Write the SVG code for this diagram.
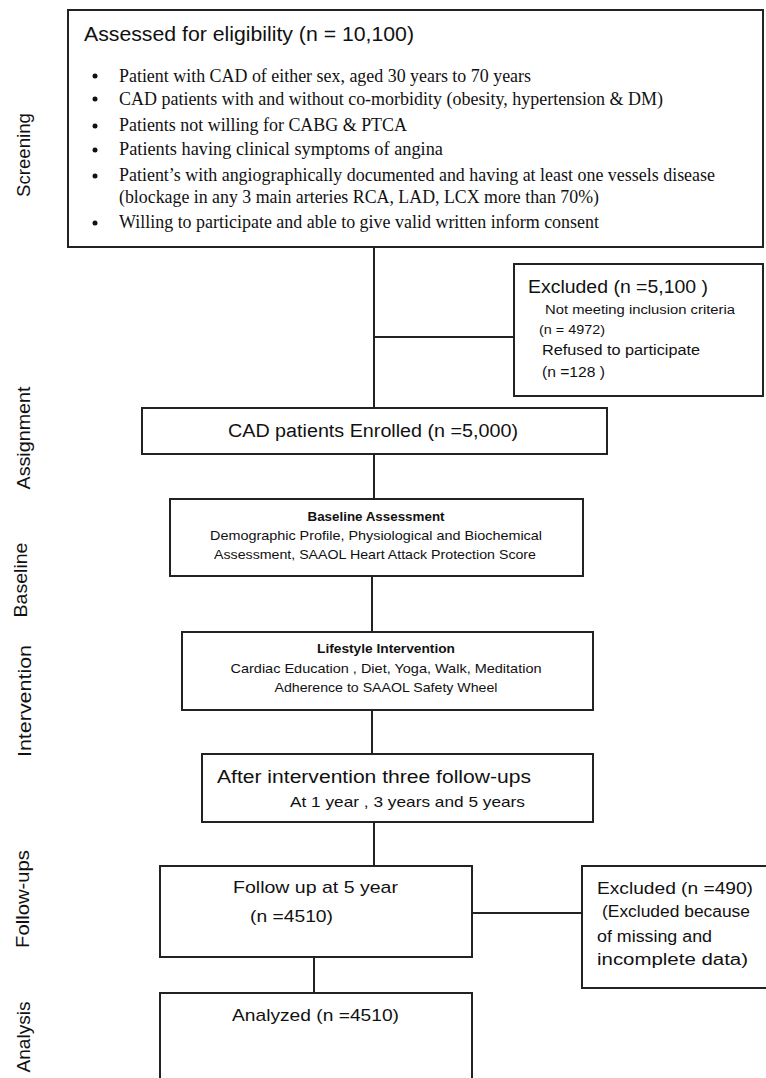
<svg xmlns="http://www.w3.org/2000/svg" width="766" height="1078" viewBox="0 0 766 1078">
<style>
.box{fill:#fff;stroke:#222;stroke-width:2}
.ln{stroke:#222;stroke-width:2;fill:none}
.s{font-family:"Liberation Sans",Arial,sans-serif;fill:#111}
.r{font-family:"Liberation Serif","Times New Roman",serif;fill:#111;font-size:18.5px}
.b{font-weight:bold}
.lab{font-family:"Liberation Sans",Arial,sans-serif;fill:#111;font-size:19px;text-anchor:middle}
</style>
<rect width="766" height="1078" fill="#fff"/>

<g id="side-labels">
<text class="lab" transform="translate(30,155) rotate(-90)" textLength="84" lengthAdjust="spacingAndGlyphs">Screening</text>
<text class="lab" transform="translate(30,438) rotate(-90)" textLength="103" lengthAdjust="spacingAndGlyphs">Assignment</text>
<text class="lab" transform="translate(27,580) rotate(-90)" textLength="75" lengthAdjust="spacingAndGlyphs">Baseline</text>
<text class="lab" transform="translate(31,701) rotate(-90)" textLength="112" lengthAdjust="spacingAndGlyphs">Intervention</text>
<text class="lab" transform="translate(29,899) rotate(-90)" textLength="98" lengthAdjust="spacingAndGlyphs">Follow-ups</text>
<text class="lab" transform="translate(30,1037) rotate(-90)" textLength="71" lengthAdjust="spacingAndGlyphs">Analysis</text>
</g>

<g id="connectors">
<line class="ln" x1="374" y1="247" x2="374" y2="408"/>
<line class="ln" x1="374" y1="337" x2="514" y2="337"/>
<line class="ln" x1="374" y1="454" x2="374" y2="499"/>
<line class="ln" x1="372" y1="576" x2="372" y2="632"/>
<line class="ln" x1="372" y1="710" x2="372" y2="754"/>
<line class="ln" x1="374" y1="822" x2="374" y2="866"/>
<line class="ln" x1="472" y1="913" x2="582" y2="913"/>
<line class="ln" x1="314" y1="957" x2="314" y2="993"/>
</g>

<g id="assessed">
<rect class="box" x="68" y="10" width="695" height="237"/>
<text class="s" x="84" y="41" font-size="21" textLength="330" lengthAdjust="spacingAndGlyphs">Assessed for eligibility (n = 10,100)</text>
<g fill="#111">
<circle cx="95" cy="76" r="2.5"/>
<circle cx="95" cy="99" r="2.5"/>
<circle cx="95" cy="126" r="2.5"/>
<circle cx="95" cy="150" r="2.5"/>
<circle cx="95" cy="176" r="2.5"/>
<circle cx="95" cy="223" r="2.5"/>
</g>
<text class="r" x="119" y="82" textLength="412" lengthAdjust="spacingAndGlyphs">Patient with CAD of either sex, aged 30 years to 70 years</text>
<text class="r" x="119" y="105" textLength="544" lengthAdjust="spacingAndGlyphs">CAD patients with and without co-morbidity (obesity, hypertension &amp; DM)</text>
<text class="r" x="119" y="131" textLength="288" lengthAdjust="spacingAndGlyphs">Patients not willing for CABG &amp; PTCA</text>
<text class="r" x="119" y="155" textLength="324" lengthAdjust="spacingAndGlyphs">Patients having clinical symptoms of angina</text>
<text class="r" x="119" y="181" textLength="596" lengthAdjust="spacingAndGlyphs">Patient’s with angiographically documented and having at least one vessels disease</text>
<text class="r" x="119" y="203" textLength="480" lengthAdjust="spacingAndGlyphs">(blockage in any 3 main arteries RCA, LAD, LCX more than 70%)</text>
<text class="r" x="119" y="228" textLength="480" lengthAdjust="spacingAndGlyphs">Willing to participate and able to give valid written inform consent</text>
</g>

<g id="excluded1">
<rect class="box" x="514" y="264" width="249" height="132"/>
<text class="s" x="528" y="293" font-size="18" textLength="180" lengthAdjust="spacingAndGlyphs">Excluded (n =5,100 )</text>
<text class="s" x="545" y="314" font-size="12.5" textLength="190" lengthAdjust="spacingAndGlyphs">Not meeting inclusion criteria</text>
<text class="s" x="539" y="334" font-size="12.5" textLength="66" lengthAdjust="spacingAndGlyphs">(n = 4972)</text>
<text class="s" x="542" y="355" font-size="14" textLength="158" lengthAdjust="spacingAndGlyphs">Refused to participate</text>
<text class="s" x="542" y="377" font-size="14" textLength="63" lengthAdjust="spacingAndGlyphs">(n =128 )</text>
</g>

<g id="enrolled">
<rect class="box" x="142" y="408" width="465" height="46"/>
<text class="s" x="228" y="437" font-size="18" textLength="290" lengthAdjust="spacingAndGlyphs">CAD patients Enrolled (n =5,000)</text>
</g>

<g id="baseline">
<rect class="box" x="170" y="499" width="413" height="77"/>
<text class="s b" x="376" y="521" font-size="13" text-anchor="middle" textLength="137" lengthAdjust="spacingAndGlyphs">Baseline Assessment</text>
<text class="s" x="376" y="540" font-size="13" text-anchor="middle" textLength="332" lengthAdjust="spacingAndGlyphs">Demographic Profile, Physiological and Biochemical</text>
<text class="s" x="375" y="559" font-size="13" text-anchor="middle" textLength="322" lengthAdjust="spacingAndGlyphs">Assessment, SAAOL Heart Attack Protection Score</text>
</g>

<g id="intervention">
<rect class="box" x="182" y="632" width="411" height="78"/>
<text class="s b" x="386" y="653" font-size="13" text-anchor="middle" textLength="138" lengthAdjust="spacingAndGlyphs">Lifestyle Intervention</text>
<text class="s" x="386" y="673" font-size="13" text-anchor="middle" textLength="311" lengthAdjust="spacingAndGlyphs">Cardiac Education , Diet, Yoga, Walk, Meditation</text>
<text class="s" x="386" y="692" font-size="13" text-anchor="middle" textLength="223" lengthAdjust="spacingAndGlyphs">Adherence to SAAOL Safety Wheel</text>
</g>

<g id="followups">
<rect class="box" x="202" y="754" width="391" height="68"/>
<text class="s" x="217" y="783" font-size="18" textLength="314" lengthAdjust="spacingAndGlyphs">After intervention three follow-ups</text>
<text class="s" x="290" y="807" font-size="15" textLength="235" lengthAdjust="spacingAndGlyphs">At 1 year , 3 years and 5 years</text>
</g>

<g id="followup5">
<rect class="box" x="160" y="866" width="312" height="91"/>
<text class="s" x="233" y="893" font-size="17" textLength="165" lengthAdjust="spacingAndGlyphs">Follow up at 5 year</text>
<text class="s" x="250" y="922" font-size="17" textLength="83" lengthAdjust="spacingAndGlyphs">(n =4510)</text>
</g>

<g id="excluded2">
<rect class="box" x="582" y="866" width="190" height="122"/>
<text class="s" x="597" y="894" font-size="17" textLength="156" lengthAdjust="spacingAndGlyphs">Excluded (n =490)</text>
<text class="s" x="602" y="917" font-size="16" textLength="148" lengthAdjust="spacingAndGlyphs">(Excluded because</text>
<text class="s" x="597" y="942" font-size="16" textLength="115" lengthAdjust="spacingAndGlyphs">of missing and</text>
<text class="s" x="597" y="965" font-size="16" textLength="151" lengthAdjust="spacingAndGlyphs">incomplete data)</text>
</g>

<g id="analyzed">
<rect class="box" x="160" y="993" width="312" height="95"/>
<text class="s" x="232" y="1021" font-size="17" textLength="167" lengthAdjust="spacingAndGlyphs">Analyzed (n =4510)</text>
</g>
</svg>
